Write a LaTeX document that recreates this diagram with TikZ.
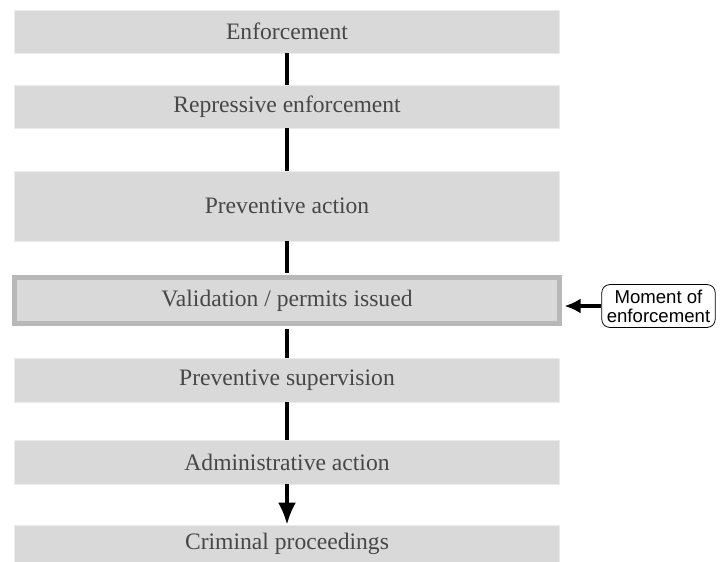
\documentclass[tikz,border=0pt]{standalone}
\usepackage{fontspec}
\setmainfont{Liberation Serif}
\newfontfamily\momentfont{Liberation Sans}
\usetikzlibrary{arrows.meta,positioning}
\tikzstyle{stageblock} = [draw=black!8, fill=black!15, text=black!72, text centered, minimum width=272.5pt, minimum height=21.5pt, font=\fontsize{11.8}{14}\selectfont]
\tikzstyle{markblock} = [draw=black!28, line width=2.5pt]
\tikzstyle{momentblock} = [draw, rounded corners=4pt, align=center, inner sep=2.5pt, font=\momentfont\fontsize{9.3}{9.6}\selectfont]
\tikzstyle{line} = [draw, line width=1.6pt]
\tikzstyle{arrow} = [draw, line width=1.6pt, -{Latex[length=11pt,width=9pt]}]
\tikzstyle{harrow} = [draw, line width=2pt, -{Latex[length=8pt,width=7.5pt]}]
\newcommand{\stageblock}[3]{node (s#1) [stageblock,#2] {#3}}

\begin{document}
\begin{tikzpicture}
\useasboundingbox (0,0) rectangle (362.5pt,-281pt);
\path (143.5pt,-15.75pt) \stageblock{1}{}{Enforcement};
\path (s1)+(0,-37.5pt) \stageblock{2}{}{Repressive enforcement};
\path (s2)+(0,-49.75pt) \stageblock{3}{minimum height=35pt}{Preventive action};
\path (s3)+(0,-47.25pt) \stageblock{4}{markblock, minimum height=23pt}{Validation / permits issued};
\path (s4)+(0,-39.75pt) \stageblock{5}{minimum height=22pt}{Preventive supervision};
\path (s5)+(0,-41pt) \stageblock{6}{minimum height=22pt}{Administrative action};
\path (s6)+(0,-40.75pt) \stageblock{7}{minimum height=18.5pt}{Criminal proceedings};
\path (s4)+(185.75pt,-2.75pt) node (m) [momentblock] {Moment of\\enforcement};

\path [line] (s1.south) -- (s2.north);
\path [line] (s2.south) -- (s3.north);
\path [line, shorten >=1.25pt] (s3.south) -- (s4.north);
\path [line, shorten <=1.25pt] (s4.south) -- (s5.north);
\path [line] (s5.south) -- (s6.north);
\path [arrow] (s6.south) -- (s7.north);
\path [harrow, shorten >=1.25pt] (m.west) -- (m.west -| s4.east);
\end{tikzpicture}
\end{document}
